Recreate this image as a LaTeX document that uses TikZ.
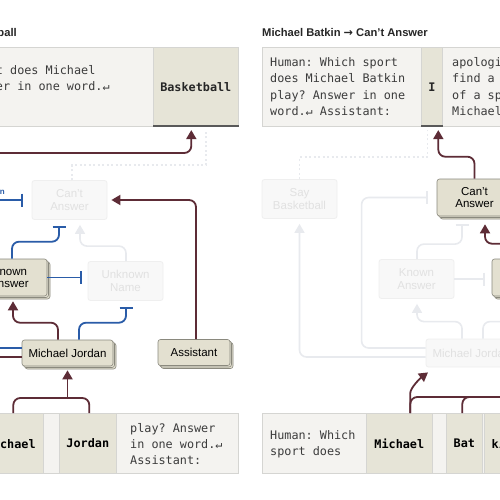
\documentclass[tikz,border=0pt]{standalone}
\usepackage{fontspec}
\setmainfont{Liberation Sans}
\setmonofont{DejaVu Sans Mono}
\newfontfamily\pfeilschrift{DejaVu Sans}
\usetikzlibrary{arrows.meta,shadows,calc,positioning}

\definecolor{kante}{HTML}{8A897E}
\definecolor{sand}{HTML}{E3E0D0}
\definecolor{marken}{HTML}{E6E4D7}
\definecolor{hell}{HTML}{F4F3F0}
\definecolor{rand}{HTML}{D5D5D2}
\definecolor{braun}{HTML}{5D2C36}
\definecolor{blau}{HTML}{2A5CA8}
\definecolor{blassfuell}{HTML}{F8F8F8}
\definecolor{blassrand}{HTML}{EFEFEF}
\definecolor{blasstext}{HTML}{E1E1E1}
\definecolor{blasslinie}{HTML}{E8EAEE}
\definecolor{textgrau}{HTML}{3C3C3C}

\def\knotenschrift{\fontsize{11.5}{12.5}\selectfont}
\def\monoschrift{\ttfamily\fontsize{11.8}{16.3}\selectfont}

\tikzset{
	aktiv/.style={draw=kante, fill=sand, line width=0.6pt, rounded corners=2.5pt,
		minimum width=75pt, minimum height=37pt, align=center, font=\knotenschrift,
		copy shadow={shadow xshift=3pt, shadow yshift=-3pt, fill=sand, draw=kante, line width=0.6pt},
		copy shadow={shadow xshift=1.5pt, shadow yshift=-1.5pt, fill=sand, draw=kante, line width=0.6pt}},
	blass/.style={draw=blassrand, fill=blassfuell, text=blasstext, line width=0.8pt,
		rounded corners=2.5pt, minimum width=75pt, minimum height=39pt, align=center,
		font=\knotenschrift},
	zelle/.style={draw=rand, fill=hell, line width=0.6pt, inner sep=0pt},
	marke/.style={draw=rand, fill=marken, line width=0.6pt, minimum height=60pt,
		anchor=north west, font=\monoschrift\bfseries},
	mono/.style={font=\monoschrift, text=textgrau, align=left, inner sep=0pt, anchor=west},
	titel/.style={font=\fontsize{11.2}{13}\selectfont\bfseries, text=black!85, inner sep=0pt},
	pfeil/.style={draw=braun, line width=1.8pt, rounded corners=7pt,
		-{Triangle[width=10pt,length=9pt]}},
	braunlinie/.style={draw=braun, line width=1.8pt, rounded corners=7pt},
	hemm/.style={draw=blau, line width=1.8pt, rounded corners=7pt, -{Bar[width=13pt]}},
	blaulinie/.style={draw=blau, line width=1.8pt},
	blasspfeil/.style={draw=blasslinie, line width=1.6pt, rounded corners=7pt,
		-{Triangle[width=10pt,length=9pt]}},
	blasshemm/.style={draw=blasslinie, line width=1.6pt, rounded corners=7pt, -{Bar[width=13pt]}},
	punktiert/.style={draw=blasslinie, line width=1.6pt, dash pattern=on 2pt off 2.5pt},
	unterstrich/.style={draw=black!65, line width=1.4pt}
}

\begin{document}
\begin{tikzpicture}[x=1pt,y=-1pt]
\useasboundingbox (0,0) rectangle (500,500);
\fill[white] (0,0) rectangle (500,500);
\clip (0,0) rectangle (500,500);

% links: Michael Jordan
\node[titel,anchor=east] (titelL) at (17,32) {Michael Jordan {\pfeilschrift →} Basketball};
\node[zelle,anchor=north west,minimum width=291,minimum height=78] (promptL) at (-138,47.5) {};
\node[mono] (textL) at (-125,86) {Human: Which sport does Michael\\Jordan play? Answer in one word.↵\\Assistant:};
\node[marke,minimum width=85,minimum height=78,text=black!85] (basket) at (153,47.5) {Basketball};
\draw[unterstrich] (basket.south west) -- (basket.south east);

\node[blass] (cantL) at (69.5,200) {Can’t\\Answer};
\node[aktiv] (knownL) at (9.5,277.5) {Known\\Answer};
\node[blass] (unknownL) at (125.5,281) {Unknown\\Name};
\node[aktiv,minimum width=91,minimum height=26] (mjL) at (67.5,353) {Michael Jordan};
\node[aktiv,minimum width=72,minimum height=26] (assistL) at (194,352.5) {Assistant};
\node[text=blau,font=\fontsize{8}{9}\selectfont\bfseries,inner sep=0pt,anchor=east] (labelL) at (5,192) {n};

\node[zelle,anchor=north west,minimum width=268,minimum height=60] (reiheL) at (-30,413) {};
\node[marke,minimum width=65] (michL) at (-22,413) {Michael};
\node[marke,minimum width=57] (jordL) at (59,413) {Jordan};
\node[mono] (textL3) at (130,444) {play? Answer\\in one word.↵\\Assistant:};

\coordinate (sayL) at (-5,153);
\coordinate (hemmL) at (-5,200);
\draw[pfeil] (sayL) -| ([xshift=-4.5pt,yshift=-4pt]basket.south);
\draw[punktiert] ([xshift=2.5pt]cantL.north) -- ++(0,-15) -| ([xshift=10pt,yshift=-4pt]basket.south);
\draw[hemm] (hemmL) -- ([xshift=-9pt]cantL.west);
\draw[hemm] ([xshift=2.5pt]knownL.north) -- ++(0,-17) -| ([xshift=-10.5pt,yshift=-6pt]cantL.south);
\draw[blasspfeil] ([xshift=0.5pt]unknownL.north) -- ++(0,-15) -| ([xshift=10.5pt,yshift=-5pt]cantL.south);
\draw[hemm] (knownL.east) -- ($(knownL.east -| unknownL.west)+(-6,0)$);
\draw[pfeil] ([xshift=-9.5pt]mjL.north) -- ++(0,-17) -| ([xshift=3.5pt,yshift=-5pt]knownL.south);
\draw[hemm] ([xshift=11.5pt]mjL.north) -- ++(0,-17) -| ([xshift=0.5pt,yshift=-6pt]unknownL.south);
\draw[pfeil] ([xshift=2pt]assistL.north) |- ([xshift=4pt]cantL.east);
\draw[blaulinie] ($(mjL.west)+(0,-5)$) -- ++(-30,0);
\draw[braunlinie] ($(mjL.west)+(0,4)$) -- ++(-30,0);
\draw[braunlinie] ([xshift=2.5pt]michL.north) -- ++(0,-15) -| ([xshift=1.5pt]jordL.north);
\draw[pfeil] (mjL.south |- michL.north) ++(0,-15) -- ([yshift=-4pt]mjL.south);

% rechts: Michael Batkin
\node[titel,anchor=west] (titelR) at (262,32) {Michael Batkin {\pfeilschrift →} Can’t Answer};
\node[zelle,anchor=north west,minimum width=159,minimum height=78] (promptR) at (262,47.5) {};
\node[mono] (textR) at (270,86.5) {Human: Which sport\\does Michael Batkin\\play? Answer in one\\word.↵ Assistant:};
\node[marke,minimum width=21,minimum height=78,text=black!85] (tokI) at (421,47.5) {I};
\node[zelle,anchor=north west,minimum width=100,minimum height=78] (antwortR) at (442,47.5) {};
\node[mono] (textR2) at (452,86.5) {apologize, but I cannot\\find a definitive record\\of a sport played by\\Michael Batkin.};
\draw[unterstrich] (tokI.south west) -- (tokI.south east);

\node[blass] (sayR) at (299.5,199) {Say\\Basketball};
\node[aktiv] (cantR) at (474.5,197.5) {Can’t\\Answer};
\node[blass] (knownR) at (416.5,279) {Known\\Answer};
\node[aktiv] (unknownR) at (529.5,277.5) {Unknown\\Name};
\node[blass,minimum width=91,minimum height=28] (mjR) at (471.5,353) {Michael Jordan};

\node[zelle,anchor=north west,minimum width=280,minimum height=60] (reiheR) at (262,413) {};
\node[mono] (textR3) at (270,444) {Human: Which\\sport does};
\node[marke,minimum width=66] (michR) at (366,413) {Michael};
\node[marke,minimum width=36] (batR) at (446,413) {Bat};
\node[marke,minimum width=36] (kinR) at (484,413) {kin};

\draw[punktiert] (sayR.north) -- ++(0,-22) -| ([xshift=-4.5pt,yshift=-4pt]tokI.south);
\draw[pfeil] (cantR.north) -- ++(0,-22) -| ([xshift=6.5pt,yshift=-4pt]tokI.south);
\draw[blasspfeil] ($(mjR.west)+(0,4)$) -| ([yshift=-5pt]sayR.south);
\draw[blasshemm] ($(mjR.west)+(0,-5)$) -- ++(-64,0) |- ([xshift=-9pt]cantR.west);
\draw[blasshemm] (knownR.east) -- ($(knownR.east -| unknownR.west)+(-7,0)$);
\draw[blasshemm] ([xshift=0.5pt]knownR.north) -- ++(0,-15) -| ([xshift=-12.5pt,yshift=-8pt]cantR.south);
\draw[pfeil] ([xshift=0.5pt]unknownR.north) -- ++(0,-15) -| ([xshift=10.5pt,yshift=-8pt]cantR.south);
\draw[blasspfeil] ([xshift=-9.5pt]mjR.north) -- ++(0,-17) -| ([xshift=0.5pt,yshift=-5pt]knownR.south);
\draw[blasshemm] ([xshift=11.5pt]mjR.north) -- ++(0,-17) -| ([xshift=0.5pt,yshift=-6pt]unknownR.south);
\draw[braunlinie] ([xshift=11pt]michR.north) -- ++(0,-16) -- ++(120,0);
\draw[braunlinie] ([xshift=-2pt]batR.north) |- ++(8,-16);
\draw[pfeil] ([xshift=11pt]michR.north) -- ++(0,-13) .. controls +(0,-12) and +(-8,6) .. ([xshift=-43.5pt,yshift=-5pt]mjR.south);
\end{tikzpicture}
\end{document}
